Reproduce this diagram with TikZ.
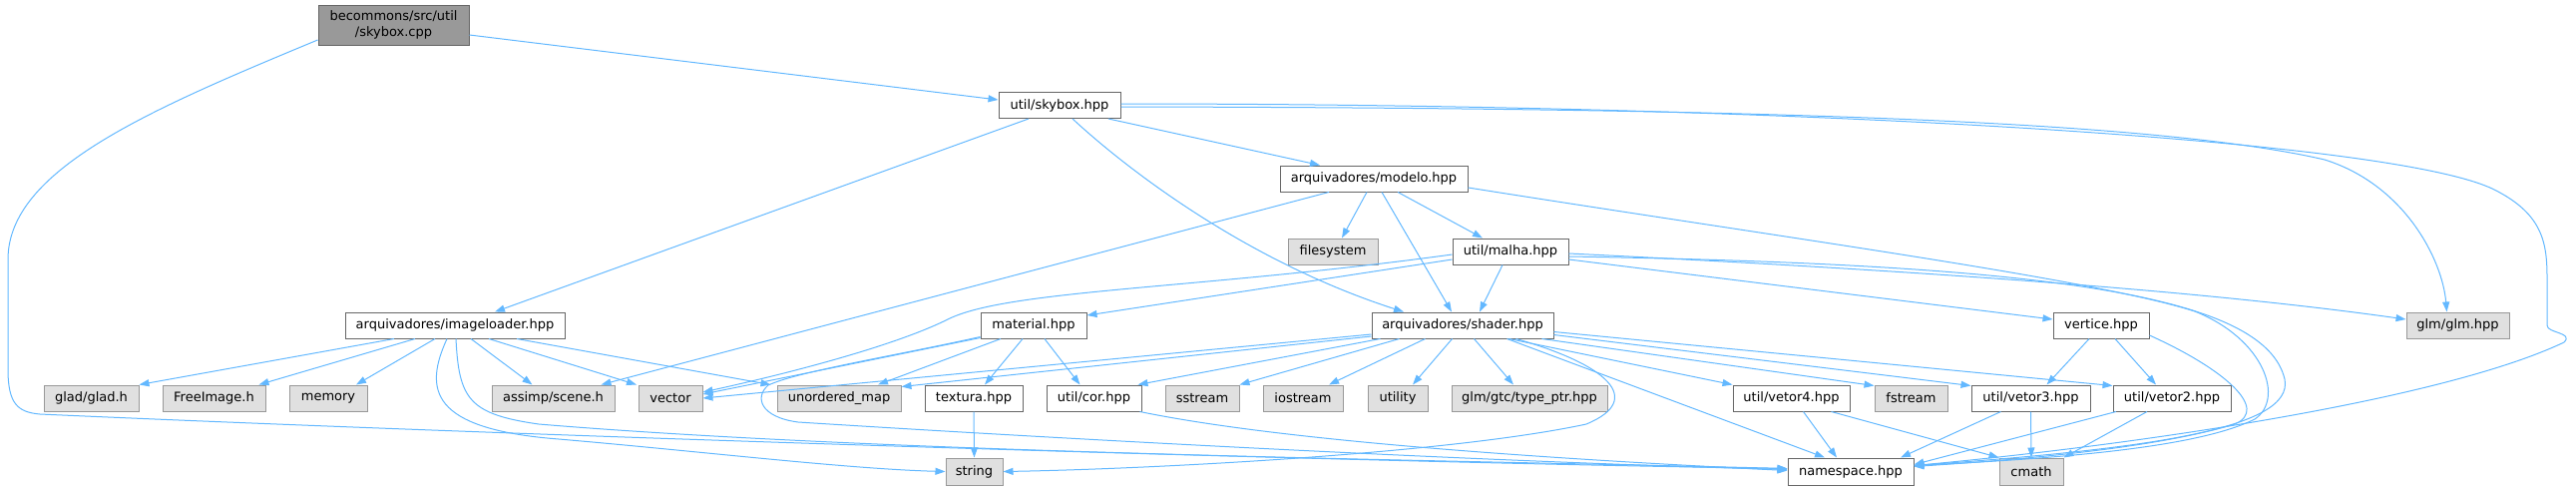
\documentclass[tikz,border=0pt]{standalone}
\usepackage{fontspec}
\setmainfont{DejaVu Sans}
\usetikzlibrary{arrows.meta}
\definecolor{edgec}{HTML}{63B8FF}
\definecolor{wborder}{HTML}{666666}
\definecolor{sysfill}{HTML}{E0E0E0}
\definecolor{sysborder}{HTML}{999999}
\definecolor{mainfill}{HTML}{999999}
\begin{document}
\begin{tikzpicture}[x=1pt,y=-1pt,
  box/.style={draw=wborder, fill=white, line width=1pt, minimum height=26pt, inner sep=0pt,
    font=\fontsize{13}{16}\selectfont, text=black},
  sys/.style={box, fill=sysfill, draw=sysborder},
  mainbox/.style={box, fill=mainfill, draw=wborder, align=center},
  dep/.style={draw=edgec, line width=1pt, -{Triangle[length=10pt,width=7pt]}}]
\useasboundingbox (0,0) rectangle (2582,491);
% nodes
\node[mainbox, minimum width=151pt, minimum height=40pt] (cpp) at (394.5,25) {becommons/src/util\\/skybox.cpp};
\node[box, minimum width=122pt] (skyhpp) at (1062,105.5) {util/skybox.hpp};
\node[box, minimum width=188pt] (modelo) at (1377,179) {arquivadores/modelo.hpp};
\node[sys, minimum width=90pt] (fs) at (1336,252) {filesystem};
\node[box, minimum width=116pt] (malha) at (1514,252) {util/malha.hpp};
\node[box, minimum width=220pt] (imgl) at (456,326) {arquivadores/imageloader.hpp};
\node[box, minimum width=106pt] (material) at (1036,326) {material.hpp};
\node[box, minimum width=182pt] (shader) at (1466,326) {arquivadores/shader.hpp};
\node[box, minimum width=96pt] (vertice) at (2106,326) {vertice.hpp};
\node[sys, minimum width=103pt] (glm) at (2463.5,326) {glm/glm.hpp};
\node[sys, minimum width=95pt] (glad) at (91.5,399) {glad/glad.h};
\node[sys, minimum width=103pt] (fi) at (214.5,399) {FreeImage.h};
\node[sys, minimum width=78pt] (mem) at (329,399) {memory};
\node[sys, minimum width=123pt] (assimp) at (554.5,399) {assimp/scene.h};
\node[sys, minimum width=64pt] (vector) at (672,399) {vector};
\node[sys, minimum width=124pt] (um) at (841,399) {unordered\_map};
\node[box, minimum width=98pt] (tex) at (976,399) {textura.hpp};
\node[box, minimum width=95pt] (cor) at (1096.5,399) {util/cor.hpp};
\node[sys, minimum width=74pt] (ss) at (1205,399) {sstream};
\node[sys, minimum width=80pt] (ios) at (1306,399) {iostream};
\node[sys, minimum width=60pt] (util) at (1401,399) {utility};
\node[sys, minimum width=156pt] (tp) at (1533,399) {glm/gtc/type\_ptr.hpp};
\node[box, minimum width=117pt] (v4) at (1795.5,399) {util/vetor4.hpp};
\node[sys, minimum width=73pt] (fs2) at (1915.5,399) {fstream};
\node[box, minimum width=119pt] (v3) at (2035.5,399) {util/vetor3.hpp};
\node[box, minimum width=118pt] (v2) at (2177,399) {util/vetor2.hpp};
\node[sys, minimum width=57pt, minimum height=27pt] (str) at (976.5,472.5) {string};
\node[box, minimum width=126pt, minimum height=27pt] (ns) at (1855,472.5) {namespace.hpp};
\node[sys, minimum width=64pt, minimum height=27pt] (cmath) at (2036,472.5) {cmath};
% skybox.cpp
\draw[dep] ([yshift=-10pt]cpp.east) -- ([yshift=5.5pt]skyhpp.west);
\draw[dep] ([yshift=-15pt]cpp.west) .. controls (150,110) and (8,170) .. (8,260) -- (8,370) .. controls (8,405) and (18,413) .. (40,415) .. controls (600,440) and (1400,464) .. ([yshift=3pt]ns.west);
% skybox.hpp
\draw[dep] ([xshift=-31pt]skyhpp.south) -- ([xshift=40pt]imgl.north);
\draw[dep] ([xshift=13pt]skyhpp.south) .. controls (1130,170) and (1250,262) .. ([xshift=-59pt]shader.north);
\draw[dep] ([xshift=49pt]skyhpp.south) -- ([xshift=-54pt]modelo.north);
\draw[dep] ([yshift=-1.5pt]skyhpp.east) .. controls (1700,108) and (2150,118) .. (2330,160) .. controls (2410,185) and (2448,260) .. ([xshift=-11pt]glm.north);
\draw[dep] ([yshift=1.5pt]skyhpp.east) .. controls (1800,104) and (2400,140) .. (2500,190) .. controls (2550,215) and (2553,245) .. (2553,280) -- (2553,326) .. controls (2553,334) and (2580,333) .. (2570,343) .. controls (2450,400) and (2150,445) .. ([yshift=6pt]ns.east);
% modelo
\draw[dep] ([xshift=-45pt]modelo.south) -- ([xshift=-14pt]assimp.north east);
\draw[dep] ([xshift=-7pt]modelo.south) -- ([xshift=9pt]fs.north);
\draw[dep] ([xshift=8pt]modelo.south) -- ([xshift=-11pt]shader.north);
\draw[dep] ([xshift=24pt]modelo.south) -- ([xshift=-28pt]malha.north);
\draw[dep] ([yshift=-9pt]modelo.east) .. controls (1800,240) and (2100,280) .. (2200,312) .. controls (2270,340) and (2290,400) .. (2260,420) .. controls (2200,450) and (2050,460) .. ([yshift=6pt]ns.east);
% malha
\draw[dep] ([yshift=-8pt]malha.west) -- ([yshift=10pt]material.east);
\draw[dep] ([yshift=-3pt]malha.west) .. controls (1200,290) and (1010,290) .. (950,320) .. controls (900,345) and (800,372) .. ([yshift=6pt]vector.east);
\draw[dep] ([xshift=-8pt]malha.south) -- ([xshift=17pt]shader.north);
\draw[dep] ([yshift=-8pt]malha.east) -- ([yshift=6pt]vertice.west);
\draw[dep] ([yshift=-2pt]malha.east) .. controls (1900,270) and (2200,290) .. ([yshift=6pt]glm.west);
\draw[dep] ([yshift=-5pt]malha.east) .. controls (2050,265) and (2270,295) .. (2290,380) .. controls (2300,430) and (2150,450) .. ([yshift=6pt]ns.east);
% vertice
\draw[dep] ([xshift=-12pt]vertice.south) -- ([xshift=16pt]v3.north);
\draw[dep] ([xshift=14pt]vertice.south) -- ([xshift=-16pt]v2.north);
\draw[dep] ([yshift=-10pt]vertice.east) .. controls (2230,370) and (2275,410) .. (2240,425) .. controls (2150,452) and (2000,462) .. ([yshift=5pt]ns.east);
% imageloader
\draw[dep] ([xshift=-61pt]imgl.south) -- (glad.north east);
\draw[dep] ([xshift=-40pt]imgl.south) -- ([xshift=45pt]fi.north);
\draw[dep] ([xshift=-20pt]imgl.south) -- ([xshift=28pt]mem.north);
\draw[dep] ([xshift=16pt]imgl.south) -- ([xshift=-21pt]assimp.north);
\draw[dep] ([xshift=34pt]imgl.south) -- ([xshift=-34pt]vector.north);
\draw[dep] ([xshift=62pt]imgl.south) -- ([xshift=-6pt]um.north west);
\draw[dep] ([xshift=-8pt]imgl.south) .. controls (425,390) and (430,430) .. (560,440) .. controls (700,452) and (850,470) .. (str.west);
\draw[dep] ([xshift=1pt]imgl.south) .. controls (460,400) and (470,415) .. (540,425) .. controls (900,455) and (1500,462) .. ([yshift=3pt]ns.west);
% material
\draw[dep] ([yshift=1pt]material.south west) -- ([yshift=4pt]vector.east);
\draw[dep] ([yshift=2pt]material.south west) .. controls (900,356) and (800,372) .. (770,386) .. controls (756,398) and (762,418) .. (800,423) .. controls (1100,442) and (1500,463) .. ([yshift=2pt]ns.west);
\draw[dep] ([xshift=-33pt]material.south) -- ([xshift=39pt]um.north);
\draw[dep] ([xshift=-11pt]material.south) -- ([xshift=11pt]tex.north);
\draw[dep] ([xshift=11pt]material.south) -- ([xshift=-14pt]cor.north);
% shader
\draw[dep] ([yshift=-9pt]shader.west) -- (vector.east);
\draw[dep] ([yshift=-11pt]shader.west) -- ([yshift=-2pt]um.north east);
\draw[dep] ([xshift=9pt]shader.south west) -- ([xshift=-4pt]cor.north east);
\draw[dep] ([xshift=28pt]shader.south west) -- (ss.north east);
\draw[dep] ([xshift=54pt]shader.south west) -- ([xshift=26pt]ios.north);
\draw[dep] ([xshift=81pt]shader.south west) -- ([xshift=15pt]util.north);
\draw[dep] ([xshift=103pt]shader.south west) -- ([xshift=-16pt]tp.north);
\draw[dep] ([xshift=138pt]shader.south west) -- (v4.north west);
\draw[dep] ([xshift=-12pt]shader.south east) -- ([yshift=-1pt]fs2.north west);
\draw[dep] ([yshift=4pt]shader.south east) -- ([yshift=-1pt]v3.north west);
\draw[dep] ([yshift=7pt]shader.south east) -- ([yshift=-1pt]v2.north west);
\draw[dep] ([xshift=136pt]shader.south west) -- ([xshift=-26pt]ns.north);
\draw[dep] ([xshift=145pt]shader.south west) .. controls (1610,365) and (1650,400) .. (1590,425) .. controls (1450,455) and (1150,470) .. (str.east);
% vetor4 / vetor3 / vetor2
\draw[dep] ([xshift=12pt]v4.south) -- ([xshift=-14pt]ns.north);
\draw[dep] ([xshift=40pt]v4.south) -- (cmath.north west);
\draw[dep] ([xshift=-30pt]v3.south) -- ([xshift=50pt]ns.north);
\draw[dep] (v3.south) -- (cmath.north);
\draw[dep] ([xshift=-56pt]v2.south) -- ([yshift=7pt]ns.east);
\draw[dep] ([xshift=-25pt]v2.south) -- (cmath.north east);
% cor / textura
\draw[dep] ([xshift=-2pt]cor.south east) .. controls (1300,445) and (1600,462) .. ([yshift=1pt]ns.west);
\draw[dep] (tex.south) -- (str.north);
\end{tikzpicture}
\end{document}
